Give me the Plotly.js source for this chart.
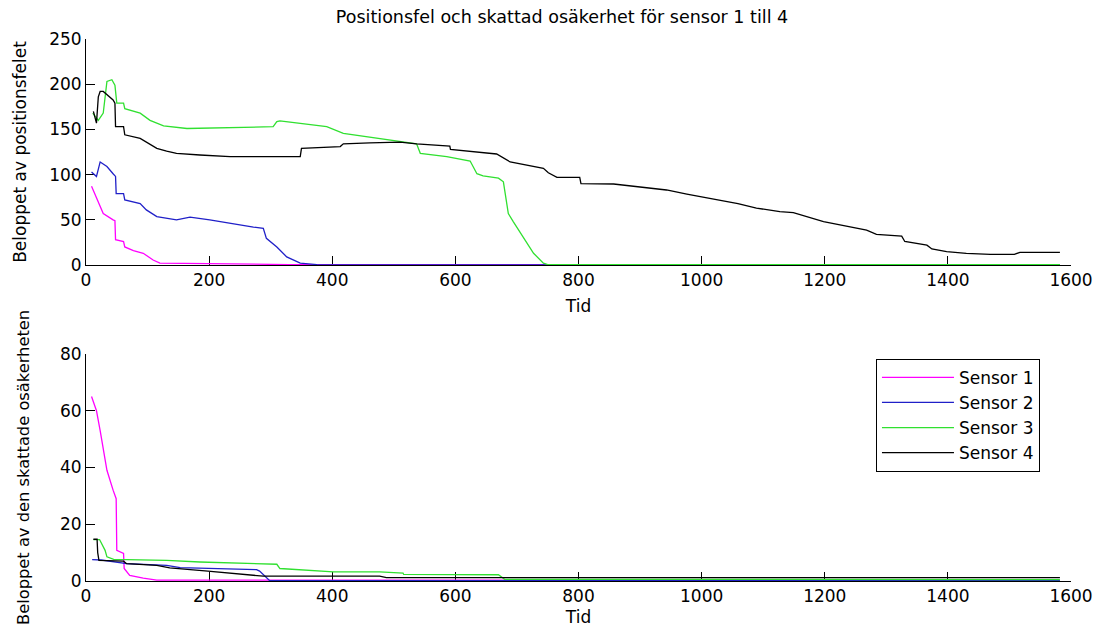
<!DOCTYPE html>
<html>
<head>
<meta charset="utf-8">
<script src="https://cdn.plot.ly/plotly-3.0.1.min.js"></script>
<style>html,body{margin:0;padding:0;background:#fff;}#chart{width:1099px;height:627px;}</style>
</head>
<body>
<div id="chart"></div>
<script>
// ---- Data ----
var sensorNames = ["Sensor 1", "Sensor 2", "Sensor 3", "Sensor 4"];

// Top panel: Beloppet av positionsfelet
var pos_t1 = [9, 17, 28, 44, 47, 48, 61, 63, 77, 93, 109, 120, 200, 205, 330, 1582];
var pos_s1 = [87, 75, 57, 50, 49, 28, 26, 20, 16, 13, 5.5, 2, 1.5, 0.8, 0.5, 0.3];

var pos_t2 = [9, 17, 23, 34, 44, 48, 49, 61, 63, 88, 98, 115, 147, 169, 201, 234, 272, 288, 293, 310, 326, 348, 375, 400, 1582];
var pos_s2 = [103, 98, 114, 109, 101, 98, 79, 79, 72, 68, 61, 53.5, 50, 53, 50, 46, 42, 40.6, 29.5, 20, 9, 2, 0.5, 0.1, 0];

var pos_t3 = [11, 20, 28, 34, 42, 47, 50, 61, 63, 88, 104, 126, 164, 304, 310, 315, 348, 391, 418, 456, 494, 537, 543, 586, 624, 635, 645, 670, 678, 686, 694, 710, 727, 743, 750, 1582];
var pos_s3 = [168, 160, 168, 203, 205, 199, 179, 179, 173, 168, 160, 154, 151, 153, 158.6, 159.5, 156.7, 153, 145.7, 142, 138, 134, 123.5, 120, 115, 101, 98.5, 96, 92, 57, 48, 31, 13, 2, 0.5, 0.5];

var pos_t4 = [12, 17, 20, 23, 28, 44, 47, 48, 61, 63, 88, 98, 115, 131, 147, 185, 234, 348, 350, 413, 418, 461, 510, 537, 591, 592, 667, 689, 743, 751, 765, 802, 804, 857, 900, 943, 976, 1016, 1059, 1089, 1127, 1149, 1198, 1268, 1284, 1325, 1330, 1366, 1374, 1398, 1430, 1469, 1508, 1517, 1582];
var pos_s4 = [170, 157, 186, 192, 192, 182.5, 179, 153, 153, 144, 140, 136, 129, 126, 123.5, 121.7, 119.8, 119.8, 129, 131, 134, 135, 136, 134, 131.6, 128, 122.8, 114, 107, 102, 97, 97, 90, 89.6, 86.6, 83, 78.5, 73.8, 68, 63, 59, 58, 48, 38.7, 34, 32, 26, 22, 17.7, 14.7, 12.9, 11.8, 11.8, 14, 14];

// Bottom panel: Beloppet av den skattade osäkerheten
var unc_t1 = [9, 17, 23, 34, 44, 49, 50, 61, 62, 71, 93, 115, 1582];
var unc_s1 = [65, 60, 53, 39, 32, 29, 10.8, 9.7, 4.4, 2, 1, 0.3, 0.2];

var unc_t2 = [10, 20, 25, 66, 131, 153, 212, 277, 282, 293, 298, 680, 1582];
var unc_s2 = [7.5, 7.5, 7.4, 6.1, 5.5, 4.7, 4.4, 4, 3.5, 1.4, 0.2, 0.1, 0.1];

var unc_t3 = [12, 22, 31, 34, 45, 131, 185, 310, 315, 402, 477, 515, 516, 670, 680, 1582];
var unc_s3 = [14.6, 14.6, 10.8, 8.5, 7.6, 7.3, 6.7, 5.9, 4.4, 3.2, 3.2, 2.8, 2.3, 2.2, 0.6, 0.5];

var unc_t4 = [12, 18, 19, 21, 61, 66, 115, 136, 198, 277, 288, 477, 488, 1582];
var unc_s4 = [14.7, 14.7, 10, 7.3, 7, 6.1, 5.5, 4.6, 3.5, 2, 1.7, 1.7, 1.2, 1.2];

var xTicks = [0, 200, 400, 600, 800, 1000, 1200, 1400, 1600];
var yTicksTop = [0, 50, 100, 150, 200, 250];
var yTicksBottom = [0, 20, 40, 60, 80];

// ---- Styling ----
var colors = ["#ff00ff", "#2020c8", "#30e030", "#000000"];
var FONT = "DejaVu Sans, Arial, sans-serif";

var posT = [pos_t1, pos_t2, pos_t3, pos_t4];
var posY = [pos_s1, pos_s2, pos_s3, pos_s4];
var uncT = [unc_t1, unc_t2, unc_t3, unc_t4];
var uncY = [unc_s1, unc_s2, unc_s3, unc_s4];

var traces = [];
for (var i = 0; i < 4; i++) {
  traces.push({
    x: posT[i], y: posY[i], xaxis: "x", yaxis: "y",
    type: "scatter", mode: "lines", name: sensorNames[i],
    legendgroup: "g" + i, showlegend: false, cliponaxis: false,
    line: {color: colors[i], width: 1.3}, hoverinfo: "skip"
  });
}
for (var j = 0; j < 4; j++) {
  traces.push({
    x: uncT[j], y: uncY[j], xaxis: "x2", yaxis: "y2",
    type: "scatter", mode: "lines", name: sensorNames[j],
    legendgroup: "g" + j, showlegend: true, cliponaxis: false,
    line: {color: colors[j], width: 1.3}, hoverinfo: "skip"
  });
}

function xAxis(anchor) {
  return {
    anchor: anchor, range: [0, 1600], tickvals: xTicks, ticktext: xTicks.map(String),
    showgrid: false, zeroline: false, showline: true, linecolor: "#000", linewidth: 1,
    ticks: "inside", ticklen: 9, tickcolor: "#000", tickwidth: 1, layer: "below traces",
    tickfont: {family: FONT, size: 17, color: "#000"},
    title: {text: "Tid", font: {family: FONT, size: 17, color: "#000"}, standoff: 10},
    automargin: false, fixedrange: true
  };
}
function yAxis(anchor, domain, rng, vals, label, standoff, fs) {
  return {
    anchor: anchor, domain: domain, range: rng, tickvals: vals, ticktext: vals.map(String),
    showgrid: false, zeroline: false, showline: true, linecolor: "#000", linewidth: 1,
    ticks: "inside", ticklen: 9, tickcolor: "#000", tickwidth: 1, layer: "below traces",
    tickfont: {family: FONT, size: 17, color: "#000"},
    title: {text: label, font: {family: FONT, size: fs, color: "#000"}, standoff: standoff},
    automargin: false, fixedrange: true
  };
}

var layout = {
  width: 1099, height: 627,
  paper_bgcolor: "#fff", plot_bgcolor: "#fff",
  margin: {l: 86, r: 28, t: 39, b: 46},
  title: {text: "Positionsfel och skattad osäkerhet för sensor 1 till 4",
          font: {family: FONT, size: 17.5, color: "#000"},
          x: 562 / 1099, xref: "container", xanchor: "center",
          y: 1 - 17 / 627, yref: "container", yanchor: "middle"},
  xaxis: xAxis("y"),
  yaxis: yAxis("x", [0.583, 1], [0, 250], yTicksTop, "Beloppet av positionsfelet", 18, 17),
  xaxis2: xAxis("y2"),
  yaxis2: yAxis("x2", [0, 0.419], [0, 80], yTicksBottom, "Beloppet av den skattade osäkerheten", 26, 16.3),
  showlegend: true,
  legend: {
    x: 0.802, y: 0.41, xref: "paper", yref: "paper", xanchor: "left", yanchor: "top",
    bgcolor: "#fff", bordercolor: "#000", borderwidth: 1,
    font: {family: FONT, size: 17, color: "#000"},
    tracegroupgap: 3, itemwidth: 72, traceorder: "normal"
  }
};

Plotly.newPlot("chart", traces, layout, {staticPlot: true, displayModeBar: false});
</script>
</body>
</html>
